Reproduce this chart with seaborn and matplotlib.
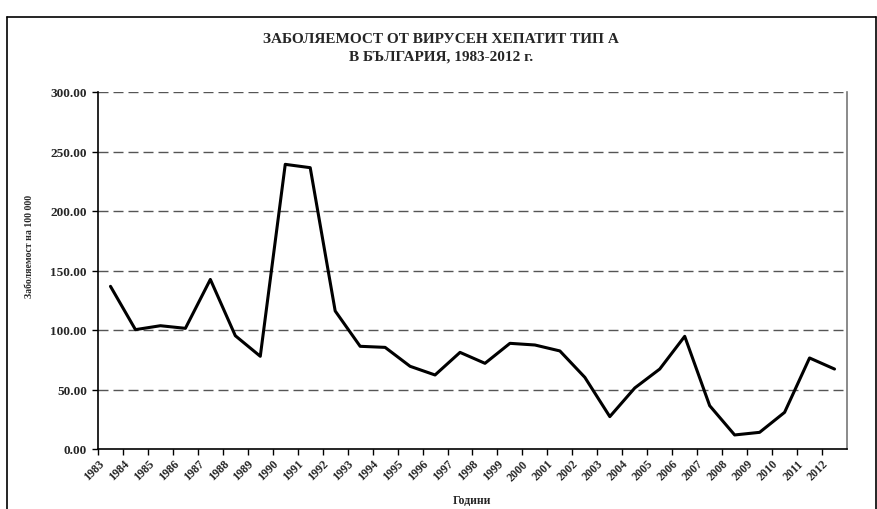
import matplotlib
matplotlib.use("Agg")
import matplotlib.pyplot as plt
from matplotlib.lines import Line2D
import seaborn as sns
import pandas as pd
import numpy as np

years = [1983, 1984, 1985, 1986, 1987, 1988, 1989, 1990, 1991, 1992,
         1993, 1994, 1995, 1996, 1997, 1998, 1999, 2000, 2001, 2002,
         2003, 2004, 2005, 2006, 2007, 2008, 2009, 2010, 2011, 2012]
incidence = [136.7, 100.3, 103.6, 101.4, 142.5, 95.2, 77.9, 239.2, 236.4, 116.0,
             86.3, 85.4, 69.5, 62.2, 81.2, 72.0, 88.8, 87.4, 82.4, 60.2,
             27.2, 51.3, 67.2, 94.7, 36.4, 11.8, 14.0, 30.8, 76.5, 67.2]
y_ticks = [0, 50, 100, 150, 200, 250, 300]

title_1 = "ЗАБОЛЯЕМОСТ ОТ ВИРУСЕН ХЕПАТИТ ТИП А"
title_2 = "В БЪЛГАРИЯ, 1983-2012 г."
x_title = "Години"
y_title = "Заболяемост на 100 000"

sns.set_style("white")
plt.rcParams['font.family'] = ['Liberation Serif', 'DejaVu Serif']
plt.rcParams['font.weight'] = 'bold'

df = pd.DataFrame({"pos": np.arange(len(years)) + 0.5, "value": incidence})

fig = plt.figure(figsize=(8.78, 5.10), dpi=100)
ax = fig.add_axes([98 / 878, 1 - 450 / 510, (847 - 98) / 878, (450 - 93) / 510])

for v in y_ticks[1:]:
    ax.axhline(v, color="#555555", lw=1.0, ls=(0, (7.2, 3.6)), zorder=1)

sns.lineplot(data=df, x="pos", y="value", color="black", lw=2.2, ax=ax, zorder=3)

ax.set_xlim(0, len(years))
ax.set_ylim(0, 300)
ax.set_yticks(y_ticks)
ax.set_yticklabels([f"{v:.2f}" for v in y_ticks], fontsize=9.5, fontweight="bold")
ax.set_xticks(np.arange(len(years)))
ax.set_xticklabels([str(y) for y in years], rotation=45, ha="right",
                   rotation_mode="anchor", fontsize=8.5, fontweight="bold")
ax.tick_params(axis="both", direction="out", length=4, width=1, color="black",
               left=True, bottom=True)
ax.tick_params(axis="x", pad=2)
ax.tick_params(axis="y", pad=4)
ax.set_xlabel("")
ax.set_ylabel("")

ax.spines["top"].set_visible(False)
ax.spines["left"].set_color("black")
ax.spines["left"].set_linewidth(1.2)
ax.spines["bottom"].set_color("black")
ax.spines["bottom"].set_linewidth(1.2)
ax.spines["right"].set_color("#777777")
ax.spines["right"].set_linewidth(1.2)

# axis titles placed like the original layout
fig.text(472 / 878, 1 - 507 / 510, x_title, ha="center", va="bottom",
         fontsize=8.5, fontweight="bold")
fig.text(30 / 878, 1 - 298 / 510, y_title, rotation=90, ha="center", va="bottom",
         fontsize=7, fontweight="bold")

fig.text(441 / 878, 1 - 40 / 510, title_1, ha="center", va="center",
         fontsize=11, fontweight="bold")
fig.text(441 / 878, 1 - 57 / 510, title_2, ha="center", va="center",
         fontsize=11, fontweight="bold")

# outer frame of the chart area
bx0, bx1, by1 = 7 / 878, 876 / 878, 1 - 18 / 510
for xs, ys in [([bx0, bx0], [0, by1]), ([bx0, bx1], [by1, by1]), ([bx1, bx1], [0, by1])]:
    fig.add_artist(Line2D(xs, ys, transform=fig.transFigure, color="black", lw=1.2))

fig.savefig("out.png", dpi=100)
